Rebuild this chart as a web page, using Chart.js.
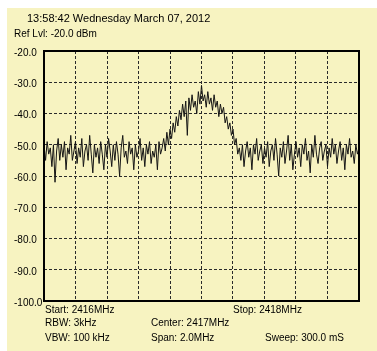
<!DOCTYPE html>
<html lang="en">
<head>
    <meta charset="UTF-8">
    <title>Spectrum Sweep</title>
    <script src="https://cdn.jsdelivr.net/npm/chart.js"></script>
    <style>
        body {
            margin: 0;
            background: #ffffff;
            font-family: "Liberation Sans", Arial, sans-serif;
        }

        .panel {
            position: absolute;
            left: 7px;
            top: 8px;
            width: 370px;
            height: 343px;
            background: #f7f3c1;
        }

        #chart {
            position: absolute;
            left: 0;
            top: 0;
        }

        .lbl {
            position: absolute;
            font-size: 10px;
            line-height: 12px;
            color: #000;
            white-space: nowrap;
        }

        .title {
            font-size: 11px;
        }
    </style>
</head>
<body>

    <div class="panel"></div>
    <canvas id="chart" width="377" height="351"></canvas>

    <!-- header and footer readouts -->
    <div class="lbl title" style="left:27px; top:12px;">13:58:42 Wednesday March 07, 2012</div>
    <div class="lbl" style="left:14px; top:28px;">Ref Lvl: -20.0 dBm</div>
    <div class="lbl" style="left:45px; top:304px;">Start: 2416MHz</div>
    <div class="lbl" style="left:233px; top:304px;">Stop: 2418MHz</div>
    <div class="lbl" style="left:45px; top:317px;">RBW: 3kHz</div>
    <div class="lbl" style="left:151px; top:317px;">Center: 2417MHz</div>
    <div class="lbl" style="left:45px; top:332px;">VBW: 100 kHz</div>
    <div class="lbl" style="left:151px; top:332px;">Span: 2.0MHz</div>
    <div class="lbl" style="left:265px; top:332px;">Sweep: 300.0 mS</div>

    <script>
        // sweep span (MHz) and reference axis
        const freqStart = 2416;
        const freqStop = 2418;
        const levelTicks = [-20, -30, -40, -50, -60, -70, -80, -90, -100];

        const sweepDbm = [
            -50, -55, -49, -53, -51, -57, -50, -62, -52, -48, -55, -50, -54, -49, -58, -51, -53, -47, -55, -52,
            -49, -56, -51, -54, -48, -57, -52, -50, -55, -47, -53, -59, -50, -54, -51, -56, -49, -53, -58, -50,
            -54, -48, -52, -57, -50, -55, -49, -53, -60, -51, -47, -54, -52, -56, -49, -53, -51, -58, -50, -54,
            -52, -48, -55, -51, -57, -50, -53, -49, -56, -52, -54, -50, -58, -49, -53, -51, -48, -52, -46, -50,
            -45, -48, -43, -46, -41, -44, -39, -42, -37, -41, -36, -47, -35, -39, -34, -38, -36, -40, -33, -37,
            -31, -36, -34, -38, -33, -37, -35, -39, -34, -38, -36, -41, -37, -40, -38, -43, -41, -45, -43, -47,
            -45, -50, -48, -53, -51, -55, -50, -57, -52, -49, -54, -51, -58, -50, -53, -48, -55, -52, -50, -56,
            -51, -54, -49, -57, -52, -50, -55, -48, -53, -60, -51, -54, -49, -56, -52, -47, -55, -50, -58, -53,
            -49, -54, -51, -57, -50, -53, -48, -55, -52, -59, -50, -54, -47, -53, -56, -51, -49, -55, -52, -50,
            -57, -51, -54, -48, -53, -50, -56, -52, -49, -55, -51, -58, -50, -53, -48, -54, -52, -56, -50, -53, -51
        ];

        const step = (freqStop - freqStart) / (sweepDbm.length - 1);
        const points = sweepDbm.map((v, i) => ({ x: freqStart + i * step, y: v }));

        // solid frame round the plot area
        const framePlugin = {
            id: 'frame',
            afterDraw(chart) {
                const a = chart.chartArea;
                const ctx = chart.ctx;
                ctx.save();
                ctx.strokeStyle = '#000';
                ctx.lineWidth = 2;
                ctx.strokeRect(a.left, a.top, a.right - a.left, a.bottom - a.top);
                ctx.restore();
            }
        };

        const gridStyle = {
            color: '#2a2a2a',
            lineWidth: 1,
            drawTicks: false
        };

        new Chart(document.getElementById('chart'), {
            type: 'line',
            data: {
                datasets: [{
                    data: points,
                    borderColor: '#151515',
                    borderWidth: 1,
                    pointRadius: 0,
                    tension: 0
                }]
            },
            options: {
                responsive: false,
                animation: false,
                devicePixelRatio: 1,
                layout: {
                    padding: { left: 14, top: 51, right: 18, bottom: 50 }
                },
                scales: {
                    x: {
                        type: 'linear',
                        min: freqStart,
                        max: freqStop,
                        ticks: { display: false, stepSize: 0.2 },
                        grid: gridStyle,
                        border: { display: false, dash: [3, 2] },
                        afterFit: s => { s.height = 0; }
                    },
                    y: {
                        min: -100,
                        max: -20,
                        afterBuildTicks: s => { s.ticks = levelTicks.map(v => ({ value: v })); },
                        ticks: {
                            crossAlign: 'far',
                            labelOffset: 2,
                            color: '#000',
                            font: { family: 'Liberation Sans', size: 10 },
                            callback: v => v.toFixed(1)
                        },
                        grid: gridStyle,
                        border: { display: false, dash: [3, 2] },
                        afterFit: s => { s.width = 30; }
                    }
                },
                plugins: {
                    legend: { display: false },
                    tooltip: { enabled: false }
                }
            },
            plugins: [framePlugin]
        });
    </script>

</body>
</html>
